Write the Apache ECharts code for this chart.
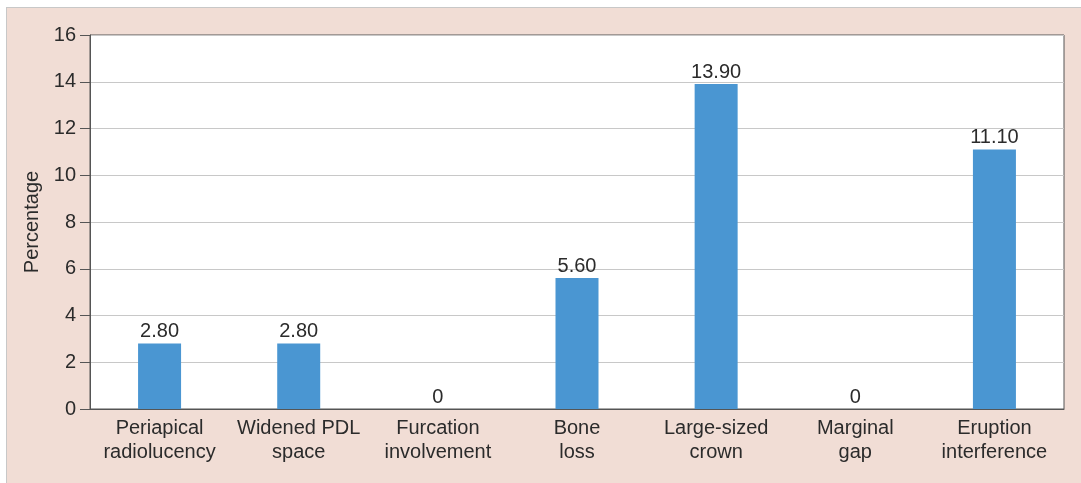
<!DOCTYPE html>
<html>
	<head>
		<meta charset="utf-8">
		<title>ECharts</title>
		<script src="https://cdn.jsdelivr.net/npm/echarts@6/dist/echarts.min.js"></script>
		<style>
			html, body { margin: 0; padding: 0; background: #fff; }
			#frame { position: absolute; left: 6px; top: 7px; right: 0; bottom: 0;
				background: #f1ddd5; border-top: 1px solid #c8c8c8; border-left: 1px solid #c8c8c8; }
			#main { position: absolute; left: 0; top: 0; width: 1081px; height: 483px; }
		</style>
	</head>
	<body>
		<div id="frame"></div>
		<div id="main"></div>
		<script type="text/javascript">
			// categories and values
			var categories = ['Periapical\nradiolucency', 'Widened PDL\nspace', 'Furcation\ninvolvement',
				'Bone\nloss', 'Large-sized\ncrown', 'Marginal\ngap', 'Eruption\ninterference'];
			var percentages = [2.8, 2.8, 0, 5.6, 13.9, 0, 11.1];
			var yTicks = { min: 0, max: 16, interval: 2 };

			var myChart = echarts.init(document.getElementById('main'));
			var font = 'Liberation Sans, Arial, sans-serif';

			var option = {
				animation: false,
				backgroundColor: 'transparent',
				grid: {
					left: 90, top: 35, right: 17, bottom: 74,
					show: true,
					backgroundColor: '#fff',
					borderColor: '#555',
					borderWidth: 1
				},
				xAxis: {
					type: 'category',
					data: categories,
					axisLine: { lineStyle: { color: '#555', width: 1 } },
					axisTick: { show: false },
					axisLabel: {
						color: '#2b2b2b', fontSize: 20, fontFamily: font,
						lineHeight: 24, margin: 7, interval: 0
					}
				},
				yAxis: {
					type: 'value',
					min: yTicks.min, max: yTicks.max, interval: yTicks.interval,
					name: 'Percentage',
					nameLocation: 'middle',
					nameGap: 44,
					nameTextStyle: { color: '#2b2b2b', fontSize: 20, fontFamily: font },
					axisLine: { show: true, lineStyle: { color: '#555', width: 1 } },
					axisTick: { show: true, length: 10, lineStyle: { color: '#555' } },
					axisLabel: { color: '#2b2b2b', fontSize: 20, fontFamily: font, margin: 14 },
					splitLine: { lineStyle: { color: '#c8c8c8', width: 1 } }
				},
				series: [{
					type: 'bar',
					data: percentages,
					barWidth: 43,
					itemStyle: { color: '#4a96d2' },
					label: {
						show: true,
						position: 'top',
						distance: 2,
						color: '#2b2b2b',
						fontSize: 20,
						fontFamily: font,
						formatter: function (p) {
							return p.value === 0 ? '0' : p.value.toFixed(2);
						}
					}
				}]
			};

			myChart.setOption(option);
		</script>
	</body>
</html>
